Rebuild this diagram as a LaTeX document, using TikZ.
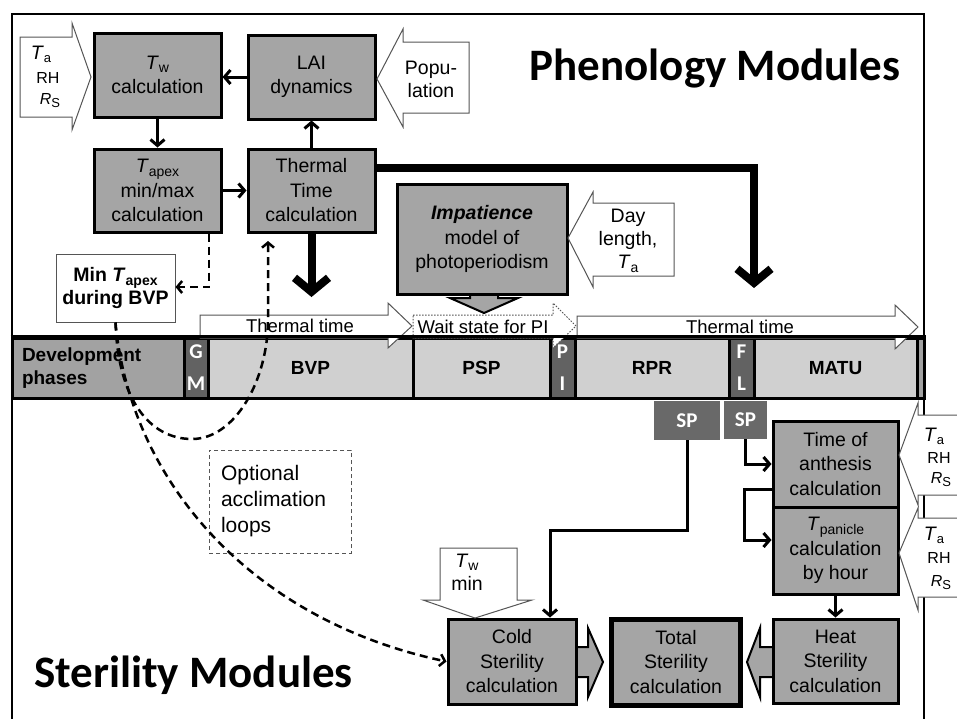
\documentclass[tikz,border=0pt]{standalone}
\usepackage{fontspec}
\setmainfont{Liberation Sans}
\newfontfamily\calfont{Carlito}
\usetikzlibrary{arrows.meta}
\definecolor{boxgray}{RGB}{165,165,165}
\definecolor{barlight}{RGB}{208,208,208}
\definecolor{bardev}{RGB}{162,162,162}
\definecolor{bardark}{RGB}{98,98,98}
\definecolor{spgray}{RGB}{105,105,105}
\definecolor{edgegray}{RGB}{85,85,85}
\newcommand\sub[1]{\raisebox{-3.5pt}{\fontsize{14}{14}\selectfont #1}}
\newcommand\insub[1]{\raisebox{-3pt}{\fontsize{13}{13}\selectfont #1}}
\begin{document}
\begin{tikzpicture}[x=1pt,y=-1pt,
 box/.style={draw, line width=3pt, fill=boxgray, align=center, inner sep=0pt, font=\fontsize{19.5}{24.5}\selectfont},
 arr/.style={line width=3pt, -{Straight Barb[length=6pt,width=14pt]}},
 thickarr/.style={line width=8pt, -{Straight Barb[length=14pt,width=34pt]}},
 dasharr/.style={line width=2.5pt, dash pattern=on 8pt off 5pt, -{Straight Barb[length=5pt,width=12pt]}},
 inarr/.style={draw=edgegray, line width=1pt, fill=white},
 garr/.style={draw, line width=2pt, fill=boxgray},
 phase/.style={draw, line width=3pt, inner sep=0pt, minimum height=60pt, align=center, font=\bfseries\fontsize{19}{23}\selectfont},
 lett/.style={phase, fill=bardark, text=white, font=\calfont\bfseries\fontsize{21}{32}\selectfont},
 lbl/.style={inner sep=0pt, align=center, font=\fontsize{19.5}{23}\selectfont},
 inlbl/.style={inner sep=0pt, font=\fontsize{16}{16}\selectfont},
 ptxt/.style={inner sep=0pt, font=\fontsize{18.5}{22}\selectfont},
 spbox/.style={fill=spgray, inner sep=0pt, text=white, font=\calfont\bfseries\fontsize{21}{21}\selectfont},
 title/.style={inner sep=0pt, anchor=base, font=\calfont\bfseries\fontsize{45}{50}\selectfont}]
\useasboundingbox (0,0) rectangle (957,718);
\fill[white] (0,0) rectangle (957,718);
% frame
\draw[line width=2.5pt] (12,730) -- (12,14) -- (924,14) -- (924,730);

% grey block arrows (under boxes)
\draw[garr] (470,290) -- (498,290) -- (498,298) -- (518,298) -- (484,313) -- (450,298) -- (470,298) -- cycle;
\draw[garr] (573,647) -- (588,647) -- (588,628) -- (603,662) -- (588,697) -- (588,677) -- (573,677) -- cycle;
\draw[garr] (776,647) -- (760,647) -- (760,628) -- (747,662) -- (760,697) -- (760,677) -- (776,677) -- cycle;

% boxes
\node[box, minimum width=127pt, minimum height=84pt] (tw) at (157.5,75) {\textit{T}\sub{w}\\calculation};
\node[box, minimum width=127pt, minimum height=84pt] (lai) at (311.5,77) {LAI\\dynamics};
\node[box, minimum width=127pt, minimum height=83pt] (tapex) at (157.5,190.5) {\textit{T}\sub{apex}\\min/max\\calculation};
\node[box, minimum width=127pt, minimum height=83pt] (tt) at (311.5,190.5) {Thermal\\Time\\calculation};
\node[box, minimum width=170pt, minimum height=110pt] (imp) at (482,239) {\textbf{\textit{Impatience}}\\model of\\photoperiodism};
\node[draw=edgegray, line width=1pt, fill=white, minimum width=119pt, minimum height=68pt, inner sep=0pt, align=center, font=\bfseries\fontsize{19.5}{23}\selectfont] (mint) at (115.5,288) {Min \textit{T}\sub{apex}\\during BVP};
\node[box, minimum width=125pt, minimum height=86pt] (anth) at (835.5,464) {Time of\\anthesis\\calculation};
\node[box, minimum width=125pt, minimum height=87pt] (tpan) at (835.5,550.5) {\textit{T}\sub{panicle}\\calculation\\by hour};
\node[box, minimum width=125pt, minimum height=84pt] (heat) at (835.5,661) {Heat\\Sterility\\calculation};
\node[box, line width=5pt, minimum width=129pt, minimum height=86pt] (total) at (676,662) {Total\\Sterility\\calculation};
\node[box, minimum width=128pt, minimum height=85pt] (cold) at (512,661.5) {Cold\\Sterility\\calculation};
\node[spbox, minimum width=66pt, minimum height=39pt] (sp1) at (687,420.5) {SP};
\node[spbox, minimum width=43pt, minimum height=38pt] (sp2) at (745.5,420) {SP};
\node[draw=edgegray, line width=1pt, dash pattern=on 4pt off 3pt, minimum width=142pt, minimum height=103pt, text width=118pt, inner sep=0pt, align=left, font=\fontsize{21}{26}\selectfont] (opt) at (280,501.5) {Optional\\acclimation\\loops};

% white input arrows
\draw[inarr] (20,37) -- (72,37) -- (72,23) -- (91,77) -- (72,130) -- (72,117) -- (20,117) -- cycle;
\node[lbl] (ia1) at (41,54) {\textit{T}\insub{a}};
\node[inlbl] (ia2) at (48,78) {RH};
\node[inlbl] (ia3) at (50,101) {\textit{R}\insub{S}};
\draw[inarr] (469,42) -- (403,42) -- (403,29) -- (377,79) -- (403,127) -- (403,113) -- (469,113) -- cycle;
\node[lbl] (pop) at (431,79) {Popu-\\lation};
\draw[inarr] (674,203) -- (593,203) -- (593,192) -- (568,238) -- (593,287) -- (593,276) -- (674,276) -- cycle;
\node[lbl] (day) at (628,241) {Day\\length,\\\textit{T}\sub{a}};
\draw[inarr] (440,548) -- (517,548) -- (517,600) -- (532,600) -- (475,618) -- (423,600) -- (440,600) -- cycle;
\node[lbl] (twmin) at (467,572) {\textit{T}\sub{w}\\min};
\draw[inarr] (965,415) -- (918,415) -- (918,403) -- (899,455) -- (918,505) -- (918,495) -- (965,495);
\node[lbl] (ib1) at (934,436) {\textit{T}\insub{a}};
\node[inlbl] (ib2) at (939,458) {RH};
\node[inlbl] (ib3) at (941,480) {\textit{R}\insub{S}};
\draw[inarr] (965,518) -- (918,518) -- (918,508) -- (899,553) -- (918,610) -- (918,597) -- (965,597);
\node[lbl] (ic1) at (934,535) {\textit{T}\insub{a}};
\node[inlbl] (ic2) at (939,558) {RH};
\node[inlbl] (ic3) at (941,583) {\textit{R}\insub{S}};

% phase bar
\node[phase, fill=bardev, minimum width=172pt, text width=152pt, align=left] (dev) at (98,368) {Development\\phases};
\node[lett, minimum width=24pt] (gm) at (196,368) {G\\M};
\node[phase, fill=barlight, minimum width=205pt] (bvp) at (310.5,368) {BVP};
\node[phase, fill=barlight, minimum width=137pt] (psp) at (481.5,368) {PSP};
\node[lett, minimum width=25pt] (pin) at (562.5,368) {P\\I};
\node[phase, fill=barlight, minimum width=154pt] (rpr) at (652,368) {RPR};
\node[lett, minimum width=25pt] (fl) at (741.5,368) {F\\L};
\node[phase, fill=barlight, minimum width=163pt] (matu) at (835.5,368) {MATU};
\node[phase, fill=bardev, minimum width=7pt] (endp) at (920.5,368) {};

% phase arrows
\draw[inarr] (200,315) -- (388,315) -- (388,303) -- (412,326) -- (388,348) -- (388,338) -- (200,338) -- cycle;
\node[ptxt] (tt1) at (300,326) {Thermal time};
\draw[draw=edgegray, line width=1pt, dash pattern=on 1.5pt off 1.5pt, fill=white] (413,315) -- (553,315) -- (553,303) -- (576,326) -- (553,348) -- (553,338) -- (413,338) -- cycle;
\node[ptxt] (ws) at (483,327) {Wait state for PI};
\draw[inarr] (577,316) -- (895,316) -- (895,305) -- (918,327) -- (895,349) -- (895,338) -- (577,338) -- cycle;
\node[ptxt] (tt2) at (740,327) {Thermal time};
\draw[line width=3pt] (dev.north west) -- (endp.north east);

% connectors
\draw[arr] (lai.west) -- (lai.west -| tw.east);
\draw[arr] (tw.south) -- (tapex.north);
\draw[arr] (tt.north) -- (lai.south);
\draw[arr] (tapex.east) -- (tt.west);
\coordinate (ttend) at (311.5,297);
\draw[thickarr] (tt.south) -- (ttend);
\coordinate (thc) at (754,168);
\coordinate (thend) at (754,288);
\draw[line width=8pt] (tt.east |- thc) -- (thc) -- ([yshift=4pt]thc);
\draw[thickarr] ([yshift=4pt]thc) -- (thend);
\draw[line width=8pt, line join=miter] (tt.east |- thc) -- (thc) -- ([yshift=-20pt]thc);
\coordinate (d1) at (209,287);
\draw[dasharr] (d1 |- tapex.south) -- (d1) -- (d1 -| mint.east);
\coordinate (ttin) at (268,241);
\draw[dasharr] (mint.south) .. controls (118,400) and (150,439) .. (192,439) .. controls (235,439) and (268,380) .. (268,320) -- (ttin);
\draw[dasharr] (mint.south) .. controls (130,480) and (250,620) .. (cold.west);
\coordinate (sp1c) at (550,530);
\draw[arr] (sp1.south) |- (sp1c) -- (sp1c |- cold.north);
\draw[arr] (sp2.south) |- (anth.west);
\coordinate (lp) at (744,489);
\draw[arr] (lp -| anth.west) -- (lp) |- ([yshift=10.5pt]tpan.west);
\draw[arr] (tpan.south) -- (heat.north);

% titles
\node[title] (phen) at (715,80) {Phenology Modules};
\node[title] (ster) at (193.5,687) {Sterility Modules};
\end{tikzpicture}
\end{document}
